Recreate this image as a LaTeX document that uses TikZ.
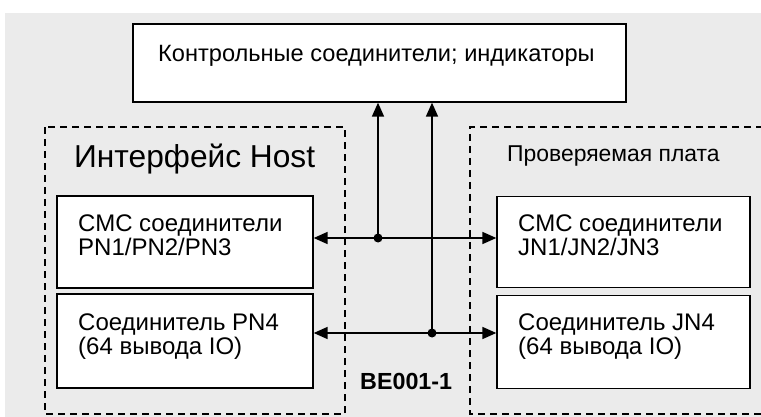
\documentclass[tikz,border=0pt]{standalone}
\usepackage{fontspec}
\setmainfont{Liberation Sans}
\usetikzlibrary{arrows.meta}
\definecolor{bggrey}{HTML}{EBEBEB}
\tikzset{
  solidbox/.style={draw=black, fill=white, line width=1.3pt, rectangle, inner sep=0pt},
  dbox/.style={draw=black, line width=1.3pt, dash pattern=on 7pt off 5pt},
  conn/.style={draw=black, line width=1.6pt, -{Triangle[length=14pt,width=12pt]}},
  jdot/.style={circle, fill=black, inner sep=0pt, minimum size=9pt},
  txt/.style={anchor=base west, inner sep=0pt, font=\fontsize{24}{24}\selectfont, align=left},
}
\begin{document}
\begin{tikzpicture}[x=1pt,y=-1pt]
\useasboundingbox (0,0) rectangle (761,417);
\fill[bggrey] (5,13) rectangle (761,417);
% dashed containers
\draw[dbox] (45,127) rectangle (345,414);
\draw[dbox] (775,127) -- (470,127) -- (470,414) -- (775,414);
% top box
\node[solidbox, minimum width=493pt, minimum height=78pt] (top) at (379.5,63) {};
\node[anchor=base west, inner sep=0pt, font=\fontsize{23.6}{24}\selectfont] (toptext) at (158,62) {Контрольные соединители; индикаторы};
% container titles
\node[anchor=base west, inner sep=0pt, font=\fontsize{31.7}{32}\selectfont] (hosttitle) at (74,168) {Интерфейс Host};
\node[anchor=base west, inner sep=0pt, font=\fontsize{22.9}{24}\selectfont] (duttitle) at (507,162) {Проверяемая плата};
% inner boxes
\node[solidbox, minimum width=256pt, minimum height=92pt] (l1) at (185,242) {};
\node[solidbox, minimum width=256pt, minimum height=94pt] (l2) at (185,341) {};
\node[solidbox, minimum width=253pt, minimum height=91pt] (r1) at (623.5,242) {};
\node[solidbox, minimum width=253pt, minimum height=93pt] (r2) at (623.5,342) {};
\node[txt] (l1t) at (78,255) {СМС соединители\\PN1/PN2/PN3};
\node[txt] (l2t) at (78,354) {Соединитель PN4\\(64 вывода IO)};
\node[txt] (r1t) at (518,255) {СМС соединители\\JN1/JN2/JN3};
\node[txt] (r2t) at (518,354) {Соединитель JN4\\(64 вывода IO)};
% label
\node[anchor=base west, inner sep=0pt, font=\fontsize{23.3}{24}\selectfont\bfseries] (be) at (360,389) {BE001-1};
% junctions
\coordinate (j1) at (378,238);
\coordinate (j2) at (432,333);
\draw[conn] (j1) -- (j1 -| l1.east);
\draw[conn] (j1) -- (j1 -| r1.west);
\draw[conn] (j2) -- (j2 -| l2.east);
\draw[conn] (j2) -- (j2 -| r2.west);
\draw[conn] (j1) -- (j1 |- top.south);
\draw[conn] (j2) -- (j2 |- top.south);
\node[jdot] at (j1) {};
\node[jdot] at (j2) {};
\end{tikzpicture}
\end{document}
